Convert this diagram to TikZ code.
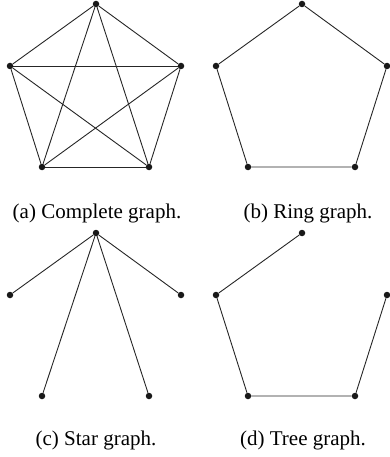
\documentclass[tikz,border=0pt]{standalone}
\usepackage{fontspec}
\setmainfont{Liberation Serif}
\begin{document}
\begin{tikzpicture}[x=1pt,y=-1pt,
  vert/.style={circle,fill=black!90,inner sep=0pt,minimum size=6.5pt},
  edge/.style={line width=0.9pt,black!85},
  caption/.style={font=\fontsize{21}{25}\selectfont,inner sep=0pt}]
\useasboundingbox (0,0) rectangle (389,457);
% five vertices in every panel
\foreach \p/\dx/\dy in {a/0/0,b/206/0,c/0/229,d/206/229}
{
  \foreach \n/\x/\y in {1/96/4,2/10/66,3/181/66,4/42/167,5/149/167}
    \node[vert] (\p\n) at (\x+\dx,\y+\dy) {};
}
% (a) every pair
\foreach \i/\j in {1/2,1/3,1/4,1/5,2/3,2/4,2/5,3/4,3/5,4/5}
  \draw[edge] (a\i) -- (a\j);
% (b) cycle
\draw[edge] (b1) -- (b3) -- (b5) -- (b4) -- (b2) -- (b1);
% (c) from the top one
\foreach \j in {2,3,4,5}
  \draw[edge] (c1) -- (c\j);
% (d) path
\draw[edge] (d1) -- (d2) -- (d4) -- (d5) -- (d3);
\node[caption] (capa) at (97,213) {(a) Complete graph.};
\node[caption] (capb) at (308,213) {(b) Ring graph.};
\node[caption] (capc) at (96,440) {(c) Star graph.};
\node[caption] (capd) at (303,440) {(d) Tree graph.};
\end{tikzpicture}
\end{document}
